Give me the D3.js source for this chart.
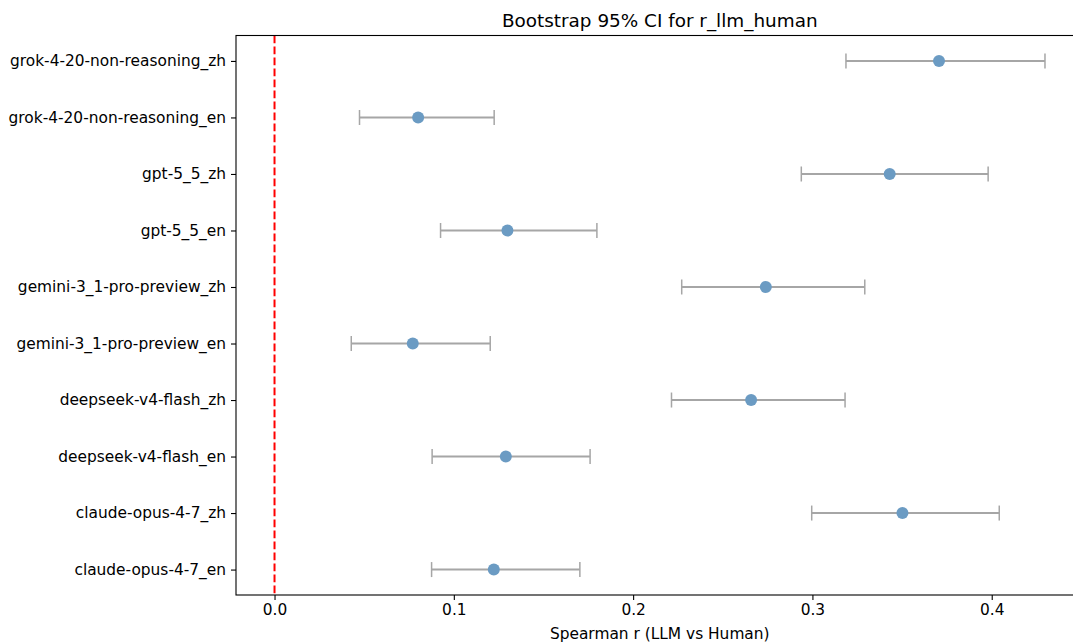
<!DOCTYPE html>
<html>
<head>
<meta charset="utf-8">
<script src="https://cdn.jsdelivr.net/npm/d3@7"></script>
<style>
  body { margin: 0; background: #fff; }
  svg text { font-family: "DejaVu Sans", sans-serif; fill: #000; }
</style>
</head>
<body>
<svg id="chart" width="1073" height="644"></svg>
<script>
"use strict"

// top-to-bottom order as drawn
var models = [
    "grok-4-20-non-reasoning_zh", "grok-4-20-non-reasoning_en",
    "gpt-5_5_zh", "gpt-5_5_en",
    "gemini-3_1-pro-preview_zh", "gemini-3_1-pro-preview_en",
    "deepseek-v4-flash_zh", "deepseek-v4-flash_en",
    "claude-opus-4-7_zh", "claude-opus-4-7_en"
];
var rValues = [0.3706, 0.0801, 0.3431, 0.1299, 0.2740, 0.0771, 0.2658, 0.1290, 0.3502, 0.1223];
var ciLow   = [0.3187, 0.0474, 0.2938, 0.0926, 0.2271, 0.0428, 0.2214, 0.0879, 0.2996, 0.0876];
var ciHigh  = [0.4297, 0.1225, 0.3980, 0.1798, 0.3292, 0.1203, 0.3182, 0.1760, 0.4042, 0.1703];
var xTicks  = [0.0, 0.1, 0.2, 0.3, 0.4];

var margin = { left: 236, top: 35.5, right: 1083.5, bottom: 595 };

var svg = d3.select("#chart");

var xMax = d3.max(ciHigh);
var pad = 0.05 * xMax;
var x = d3.scaleLinear().domain([-pad, xMax + pad]).range([margin.left, margin.right]);

var n = models.length;
var y = d3.scaleLinear().domain([-0.45, n - 1 + 0.45]).range([margin.top, margin.bottom]);

svg.append("defs").append("clipPath").attr("id", "plot")
    .append("rect")
    .attr("x", margin.left).attr("y", margin.top)
    .attr("width", margin.right - margin.left).attr("height", margin.bottom - margin.top);

var plot = svg.append("g").attr("clip-path", "url(#plot)");

// zero reference line
plot.append("line")
    .attr("x1", x(0)).attr("x2", x(0))
    .attr("y1", margin.top).attr("y2", margin.bottom)
    .attr("stroke", "#ff0000")
    .attr("stroke-width", 2)
    .attr("stroke-dasharray", "7.7,3.3");

var rows = d3.range(n);

// error bars
plot.selectAll(".ci").data(rows).enter().append("line")
    .attr("class", "ci")
    .attr("x1", function(i) { return x(ciLow[i]); })
    .attr("x2", function(i) { return x(ciHigh[i]); })
    .attr("y1", function(i) { return y(i); })
    .attr("y2", function(i) { return y(i); })
    .attr("stroke", "#a6a6a6").attr("stroke-width", 2);

[ciLow, ciHigh].forEach(function(arr) {
    plot.selectAll(null).data(rows).enter().append("line")
        .attr("x1", function(i) { return x(arr[i]); })
        .attr("x2", function(i) { return x(arr[i]); })
        .attr("y1", function(i) { return y(i) - 7.5; })
        .attr("y2", function(i) { return y(i) + 7.5; })
        .attr("stroke", "#a6a6a6").attr("stroke-width", 1.5);
});

// points
plot.selectAll(".pt").data(rows).enter().append("circle")
    .attr("class", "pt")
    .attr("cx", function(i) { return x(rValues[i]); })
    .attr("cy", function(i) { return y(i); })
    .attr("r", 6)
    .attr("fill", "#6b9bc3");

// axes
var xAxis = d3.axisBottom(x).tickValues(xTicks).tickFormat(d3.format(".1f")).tickSize(5).tickPadding(4);
var gx = svg.append("g").attr("transform", "translate(0," + margin.bottom + ")").call(xAxis);

var yAxis = d3.axisLeft(y).tickValues(rows).tickFormat(function(i) { return models[i]; }).tickSize(5).tickPadding(5);
var gy = svg.append("g").attr("transform", "translate(" + margin.left + ",0)").call(yAxis);

[gx, gy].forEach(function(g) {
    g.select(".domain").remove();
    g.selectAll(".tick line").attr("stroke", "#000").attr("stroke-width", 1.1);
    g.selectAll(".tick text").attr("font-size", "15.4px").style("font-family", "DejaVu Sans, sans-serif");
});

// spines
svg.append("rect")
    .attr("x", margin.left).attr("y", margin.top)
    .attr("width", margin.right - margin.left).attr("height", margin.bottom - margin.top)
    .attr("fill", "none").attr("stroke", "#000").attr("stroke-width", 1.1);

svg.append("text")
    .attr("x", (margin.left + margin.right) / 2).attr("y", 27)
    .attr("text-anchor", "middle").attr("font-size", "18.4px")
    .text("Bootstrap 95% CI for r_llm_human");

svg.append("text")
    .attr("x", (margin.left + margin.right) / 2).attr("y", 639)
    .attr("text-anchor", "middle").attr("font-size", "15.4px")
    .text("Spearman r (LLM vs Human)");
</script>
</body>
</html>
